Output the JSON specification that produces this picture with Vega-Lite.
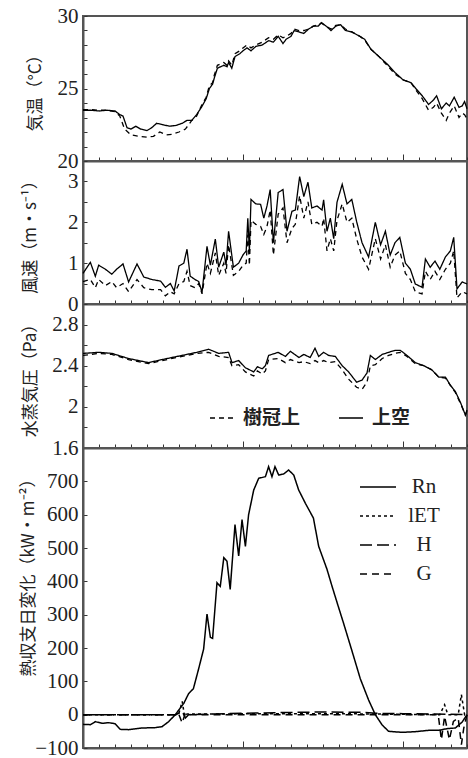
{
  "$schema": "https://vega.github.io/schema/vega-lite/v6.json",
  "padding": {"left": 17, "top": 4, "right": 0, "bottom": 0},
  "spacing": 0,
  "bounds": "flush",
  "config": {
    "view": {"stroke": "#555", "strokeWidth": 2},
    "axis": {"labelFont": "Liberation Serif", "labelFontSize": 21, "labelColor": "#222", "titleFont": "Noto Sans CJK JP", "titleFontSize": 17, "titleFontWeight": "normal", "titleColor": "#222", "domainColor": "#555", "domainWidth": 2, "tickColor": "#333", "tickWidth": 1, "grid": false, "labelOverlap": false, "labelFlush": false, "labelBound": false}
  },
  "resolve": {"scale": {"strokeDash": "independent"}, "legend": {"strokeDash": "independent"}},
  "datasets": {
    "temp": [
      {"t":0,"v":23.5,"s":"上空"},{"t":0.5,"v":23.5,"s":"上空"},{"t":1,"v":23.45,"s":"上空"},{"t":1.5,"v":23.5,"s":"上空"},{"t":2,"v":23.45,"s":"上空"},{"t":2.3,"v":23.2,"s":"上空"},{"t":2.5,"v":23.1,"s":"上空"},{"t":2.75,"v":22.3,"s":"上空"},{"t":3,"v":22.2,"s":"上空"},{"t":3.3,"v":22.4,"s":"上空"},{"t":3.6,"v":22.2,"s":"上空"},{"t":4,"v":22.1,"s":"上空"},{"t":4.3,"v":22.3,"s":"上空"},{"t":4.6,"v":22.6,"s":"上空"},{"t":5,"v":22.5,"s":"上空"},{"t":5.4,"v":22.4,"s":"上空"},{"t":5.8,"v":22.45,"s":"上空"},{"t":6.2,"v":22.6,"s":"上空"},{"t":6.5,"v":22.8,"s":"上空"},{"t":6.8,"v":22.8,"s":"上空"},{"t":7.1,"v":23.2,"s":"上空"},{"t":7.4,"v":23.7,"s":"上空"},{"t":7.7,"v":24.3,"s":"上空"},{"t":7.9,"v":25.0,"s":"上空"},{"t":8.1,"v":25.3,"s":"上空"},{"t":8.2,"v":25.7,"s":"上空"},{"t":8.4,"v":26.4,"s":"上空"},{"t":8.8,"v":26.6,"s":"上空"},{"t":9,"v":26.5,"s":"上空"},{"t":9.1,"v":26.8,"s":"上空"},{"t":9.3,"v":26.4,"s":"上空"},{"t":9.5,"v":27.2,"s":"上空"},{"t":9.8,"v":27.4,"s":"上空"},{"t":10,"v":27.6,"s":"上空"},{"t":10.25,"v":27.8,"s":"上空"},{"t":10.5,"v":27.6,"s":"上空"},{"t":10.8,"v":27.9,"s":"上空"},{"t":11.2,"v":28.0,"s":"上空"},{"t":11.6,"v":28.3,"s":"上空"},{"t":11.9,"v":28.2,"s":"上空"},{"t":12.2,"v":28.6,"s":"上空"},{"t":12.5,"v":28.1,"s":"上空"},{"t":12.7,"v":28.4,"s":"上空"},{"t":13,"v":28.6,"s":"上空"},{"t":13.2,"v":29.0,"s":"上空"},{"t":13.5,"v":28.9,"s":"上空"},{"t":13.8,"v":28.8,"s":"上空"},{"t":14.1,"v":29.1,"s":"上空"},{"t":14.4,"v":29.3,"s":"上空"},{"t":14.7,"v":29.3,"s":"上空"},{"t":14.9,"v":29.55,"s":"上空"},{"t":15.2,"v":29.3,"s":"上空"},{"t":15.5,"v":29.0,"s":"上空"},{"t":15.8,"v":29.3,"s":"上空"},{"t":16.1,"v":29.4,"s":"上空"},{"t":16.4,"v":29.0,"s":"上空"},{"t":16.8,"v":28.9,"s":"上空"},{"t":17.3,"v":28.6,"s":"上空"},{"t":17.6,"v":28.4,"s":"上空"},{"t":18,"v":27.7,"s":"上空"},{"t":18.5,"v":27.2,"s":"上空"},{"t":19,"v":26.7,"s":"上空"},{"t":19.5,"v":26.1,"s":"上空"},{"t":20,"v":25.6,"s":"上空"},{"t":20.5,"v":25.4,"s":"上空"},{"t":20.8,"v":25.0,"s":"上空"},{"t":21.2,"v":24.5,"s":"上空"},{"t":21.6,"v":23.9,"s":"上空"},{"t":21.9,"v":24.2,"s":"上空"},{"t":22.1,"v":24.5,"s":"上空"},{"t":22.4,"v":23.6,"s":"上空"},{"t":22.7,"v":24.0,"s":"上空"},{"t":22.9,"v":23.8,"s":"上空"},{"t":23.2,"v":24.4,"s":"上空"},{"t":23.5,"v":23.7,"s":"上空"},{"t":23.7,"v":23.8,"s":"上空"},{"t":23.85,"v":24.1,"s":"上空"},{"t":24,"v":23.6,"s":"上空"},
      {"t":0,"v":23.55,"s":"樹冠上"},{"t":0.5,"v":23.55,"s":"樹冠上"},{"t":1,"v":23.5,"s":"樹冠上"},{"t":1.5,"v":23.5,"s":"樹冠上"},{"t":2,"v":23.4,"s":"樹冠上"},{"t":2.3,"v":23.1,"s":"樹冠上"},{"t":2.6,"v":22.2,"s":"樹冠上"},{"t":3,"v":21.8,"s":"樹冠上"},{"t":3.5,"v":21.7,"s":"樹冠上"},{"t":4,"v":21.65,"s":"樹冠上"},{"t":4.4,"v":21.7,"s":"樹冠上"},{"t":4.8,"v":22.0,"s":"樹冠上"},{"t":5.2,"v":21.8,"s":"樹冠上"},{"t":5.6,"v":21.85,"s":"樹冠上"},{"t":6,"v":22.0,"s":"樹冠上"},{"t":6.4,"v":22.2,"s":"樹冠上"},{"t":6.8,"v":22.8,"s":"樹冠上"},{"t":7.1,"v":23.1,"s":"樹冠上"},{"t":7.4,"v":23.8,"s":"樹冠上"},{"t":7.7,"v":24.4,"s":"樹冠上"},{"t":7.9,"v":25.2,"s":"樹冠上"},{"t":8.1,"v":25.4,"s":"樹冠上"},{"t":8.2,"v":25.9,"s":"樹冠上"},{"t":8.4,"v":26.6,"s":"樹冠上"},{"t":8.8,"v":26.8,"s":"樹冠上"},{"t":9,"v":26.6,"s":"樹冠上"},{"t":9.1,"v":26.9,"s":"樹冠上"},{"t":9.3,"v":26.6,"s":"樹冠上"},{"t":9.5,"v":27.4,"s":"樹冠上"},{"t":9.8,"v":27.6,"s":"樹冠上"},{"t":10,"v":27.8,"s":"樹冠上"},{"t":10.25,"v":28.0,"s":"樹冠上"},{"t":10.5,"v":27.8,"s":"樹冠上"},{"t":10.8,"v":28.0,"s":"樹冠上"},{"t":11.2,"v":28.2,"s":"樹冠上"},{"t":11.6,"v":28.5,"s":"樹冠上"},{"t":11.9,"v":28.4,"s":"樹冠上"},{"t":12.2,"v":28.7,"s":"樹冠上"},{"t":12.5,"v":28.5,"s":"樹冠上"},{"t":12.7,"v":28.6,"s":"樹冠上"},{"t":13,"v":28.8,"s":"樹冠上"},{"t":13.2,"v":29.1,"s":"樹冠上"},{"t":13.5,"v":29.0,"s":"樹冠上"},{"t":13.8,"v":29.0,"s":"樹冠上"},{"t":14.1,"v":29.1,"s":"樹冠上"},{"t":14.4,"v":29.3,"s":"樹冠上"},{"t":14.7,"v":29.4,"s":"樹冠上"},{"t":14.9,"v":29.5,"s":"樹冠上"},{"t":15.2,"v":29.3,"s":"樹冠上"},{"t":15.5,"v":29.1,"s":"樹冠上"},{"t":15.8,"v":29.35,"s":"樹冠上"},{"t":16.1,"v":29.4,"s":"樹冠上"},{"t":16.4,"v":29.1,"s":"樹冠上"},{"t":16.8,"v":28.9,"s":"樹冠上"},{"t":17.3,"v":28.6,"s":"樹冠上"},{"t":17.6,"v":28.35,"s":"樹冠上"},{"t":18,"v":27.7,"s":"樹冠上"},{"t":18.5,"v":27.2,"s":"樹冠上"},{"t":19,"v":26.6,"s":"樹冠上"},{"t":19.5,"v":26.0,"s":"樹冠上"},{"t":20,"v":25.6,"s":"樹冠上"},{"t":20.5,"v":25.4,"s":"樹冠上"},{"t":20.8,"v":24.9,"s":"樹冠上"},{"t":21.2,"v":24.3,"s":"樹冠上"},{"t":21.6,"v":23.5,"s":"樹冠上"},{"t":21.9,"v":23.7,"s":"樹冠上"},{"t":22.1,"v":24.0,"s":"樹冠上"},{"t":22.4,"v":23.3,"s":"樹冠上"},{"t":22.7,"v":22.8,"s":"樹冠上"},{"t":22.9,"v":23.3,"s":"樹冠上"},{"t":23.2,"v":23.8,"s":"樹冠上"},{"t":23.5,"v":23.0,"s":"樹冠上"},{"t":23.7,"v":23.3,"s":"樹冠上"},{"t":23.85,"v":23.2,"s":"樹冠上"},{"t":24,"v":22.9,"s":"樹冠上"}
    ],
    "wind": [
      {"t":0,"v":0.75,"s":"上空"},{"t":0.46,"v":1.02,"s":"上空"},{"t":0.77,"v":0.68,"s":"上空"},{"t":0.98,"v":0.95,"s":"上空"},{"t":1.4,"v":0.85,"s":"上空"},{"t":1.8,"v":0.73,"s":"上空"},{"t":2.1,"v":0.85,"s":"上空"},{"t":2.5,"v":0.98,"s":"上空"},{"t":2.85,"v":0.54,"s":"上空"},{"t":3.375,"v":0.98,"s":"上空"},{"t":3.8,"v":0.66,"s":"上空"},{"t":4.3,"v":0.6,"s":"上空"},{"t":4.85,"v":0.56,"s":"上空"},{"t":5.15,"v":0.41,"s":"上空"},{"t":5.46,"v":0.5,"s":"上空"},{"t":5.7,"v":0.32,"s":"上空"},{"t":6,"v":0.93,"s":"上空"},{"t":6.3,"v":1.0,"s":"上空"},{"t":6.5,"v":1.34,"s":"上空"},{"t":6.7,"v":0.68,"s":"上空"},{"t":7,"v":0.6,"s":"上空"},{"t":7.23,"v":0.55,"s":"上空"},{"t":7.44,"v":0.29,"s":"上空"},{"t":7.75,"v":1.41,"s":"上空"},{"t":7.96,"v":0.95,"s":"上空"},{"t":8.27,"v":1.59,"s":"上空"},{"t":8.48,"v":0.9,"s":"上空"},{"t":8.8,"v":1.27,"s":"上空"},{"t":8.94,"v":0.95,"s":"上空"},{"t":9.1,"v":1.78,"s":"上空"},{"t":9.4,"v":0.9,"s":"上空"},{"t":9.73,"v":1.0,"s":"上空"},{"t":10,"v":1.2,"s":"上空"},{"t":10.2,"v":1.3,"s":"上空"},{"t":10.3,"v":2.1,"s":"上空"},{"t":10.4,"v":1.3,"s":"上空"},{"t":10.5,"v":2.56,"s":"上空"},{"t":10.8,"v":2.45,"s":"上空"},{"t":11.1,"v":2.44,"s":"上空"},{"t":11.3,"v":2.1,"s":"上空"},{"t":11.5,"v":2.4,"s":"上空"},{"t":11.7,"v":2.8,"s":"上空"},{"t":11.9,"v":1.5,"s":"上空"},{"t":12.2,"v":2.73,"s":"上空"},{"t":12.5,"v":2.8,"s":"上空"},{"t":12.75,"v":1.78,"s":"上空"},{"t":13.06,"v":2.27,"s":"上空"},{"t":13.27,"v":2.3,"s":"上空"},{"t":13.54,"v":3.12,"s":"上空"},{"t":13.8,"v":2.63,"s":"上空"},{"t":14.06,"v":2.98,"s":"上空"},{"t":14.3,"v":2.35,"s":"上空"},{"t":14.625,"v":2.4,"s":"上空"},{"t":14.94,"v":2.3,"s":"上空"},{"t":15.04,"v":2.55,"s":"上空"},{"t":15.25,"v":1.78,"s":"上空"},{"t":15.46,"v":2.1,"s":"上空"},{"t":15.67,"v":1.6,"s":"上空"},{"t":15.875,"v":2.49,"s":"上空"},{"t":16.2,"v":2.93,"s":"上空"},{"t":16.5,"v":2.45,"s":"上空"},{"t":16.8,"v":2.56,"s":"上空"},{"t":17.1,"v":2.02,"s":"上空"},{"t":17.44,"v":1.5,"s":"上空"},{"t":17.85,"v":1.15,"s":"上空"},{"t":18.27,"v":2.0,"s":"上空"},{"t":18.6,"v":1.45,"s":"上空"},{"t":18.9,"v":1.78,"s":"上空"},{"t":19.2,"v":1.2,"s":"上空"},{"t":19.5,"v":1.5,"s":"上空"},{"t":19.8,"v":1.63,"s":"上空"},{"t":20.15,"v":1.0,"s":"上空"},{"t":20.46,"v":0.85,"s":"上空"},{"t":20.77,"v":0.49,"s":"上空"},{"t":21.19,"v":0.41,"s":"上空"},{"t":21.4,"v":1.1,"s":"上空"},{"t":21.7,"v":0.9,"s":"上空"},{"t":22,"v":1.05,"s":"上空"},{"t":22.3,"v":0.85,"s":"上空"},{"t":22.65,"v":1.15,"s":"上空"},{"t":22.96,"v":1.3,"s":"上空"},{"t":23.17,"v":1.63,"s":"上空"},{"t":23.375,"v":0.37,"s":"上空"},{"t":23.7,"v":0.54,"s":"上空"},{"t":24,"v":0.49,"s":"上空"},
      {"t":0,"v":0.55,"s":"樹冠上"},{"t":0.46,"v":0.6,"s":"樹冠上"},{"t":0.77,"v":0.4,"s":"樹冠上"},{"t":0.98,"v":0.6,"s":"樹冠上"},{"t":1.4,"v":0.45,"s":"樹冠上"},{"t":1.8,"v":0.55,"s":"樹冠上"},{"t":2.1,"v":0.4,"s":"樹冠上"},{"t":2.5,"v":0.5,"s":"樹冠上"},{"t":2.85,"v":0.3,"s":"樹冠上"},{"t":3.375,"v":0.6,"s":"樹冠上"},{"t":3.8,"v":0.4,"s":"樹冠上"},{"t":4.3,"v":0.35,"s":"樹冠上"},{"t":4.85,"v":0.35,"s":"樹冠上"},{"t":5.15,"v":0.2,"s":"樹冠上"},{"t":5.46,"v":0.3,"s":"樹冠上"},{"t":5.7,"v":0.25,"s":"樹冠上"},{"t":6,"v":0.5,"s":"樹冠上"},{"t":6.3,"v":0.55,"s":"樹冠上"},{"t":6.5,"v":0.8,"s":"樹冠上"},{"t":6.7,"v":0.45,"s":"樹冠上"},{"t":7,"v":0.4,"s":"樹冠上"},{"t":7.23,"v":0.5,"s":"樹冠上"},{"t":7.44,"v":0.25,"s":"樹冠上"},{"t":7.75,"v":1.0,"s":"樹冠上"},{"t":7.96,"v":0.75,"s":"樹冠上"},{"t":8.27,"v":1.25,"s":"樹冠上"},{"t":8.48,"v":0.7,"s":"樹冠上"},{"t":8.8,"v":1.0,"s":"樹冠上"},{"t":8.94,"v":0.75,"s":"樹冠上"},{"t":9.1,"v":1.45,"s":"樹冠上"},{"t":9.4,"v":0.7,"s":"樹冠上"},{"t":9.73,"v":0.8,"s":"樹冠上"},{"t":10,"v":0.95,"s":"樹冠上"},{"t":10.2,"v":1.0,"s":"樹冠上"},{"t":10.3,"v":1.7,"s":"樹冠上"},{"t":10.4,"v":0.95,"s":"樹冠上"},{"t":10.5,"v":2.05,"s":"樹冠上"},{"t":10.8,"v":1.95,"s":"樹冠上"},{"t":11.1,"v":1.9,"s":"樹冠上"},{"t":11.3,"v":1.7,"s":"樹冠上"},{"t":11.5,"v":1.9,"s":"樹冠上"},{"t":11.7,"v":2.3,"s":"樹冠上"},{"t":11.9,"v":1.2,"s":"樹冠上"},{"t":12.2,"v":2.2,"s":"樹冠上"},{"t":12.5,"v":2.35,"s":"樹冠上"},{"t":12.75,"v":1.5,"s":"樹冠上"},{"t":13.06,"v":1.85,"s":"樹冠上"},{"t":13.27,"v":1.95,"s":"樹冠上"},{"t":13.54,"v":2.65,"s":"樹冠上"},{"t":13.8,"v":2.1,"s":"樹冠上"},{"t":14.06,"v":2.5,"s":"樹冠上"},{"t":14.3,"v":1.95,"s":"樹冠上"},{"t":14.625,"v":2.0,"s":"樹冠上"},{"t":14.94,"v":1.9,"s":"樹冠上"},{"t":15.04,"v":2.1,"s":"樹冠上"},{"t":15.25,"v":1.3,"s":"樹冠上"},{"t":15.46,"v":1.6,"s":"樹冠上"},{"t":15.67,"v":1.3,"s":"樹冠上"},{"t":15.875,"v":2.05,"s":"樹冠上"},{"t":16.2,"v":2.45,"s":"樹冠上"},{"t":16.5,"v":2.0,"s":"樹冠上"},{"t":16.8,"v":2.1,"s":"樹冠上"},{"t":17.1,"v":1.6,"s":"樹冠上"},{"t":17.44,"v":1.15,"s":"樹冠上"},{"t":17.85,"v":0.85,"s":"樹冠上"},{"t":18.27,"v":1.6,"s":"樹冠上"},{"t":18.6,"v":1.1,"s":"樹冠上"},{"t":18.9,"v":1.45,"s":"樹冠上"},{"t":19.2,"v":0.9,"s":"樹冠上"},{"t":19.5,"v":1.2,"s":"樹冠上"},{"t":19.8,"v":1.3,"s":"樹冠上"},{"t":20.15,"v":0.75,"s":"樹冠上"},{"t":20.46,"v":0.6,"s":"樹冠上"},{"t":20.77,"v":0.3,"s":"樹冠上"},{"t":21.19,"v":0.25,"s":"樹冠上"},{"t":21.4,"v":0.8,"s":"樹冠上"},{"t":21.7,"v":0.6,"s":"樹冠上"},{"t":22,"v":0.8,"s":"樹冠上"},{"t":22.3,"v":0.6,"s":"樹冠上"},{"t":22.65,"v":0.85,"s":"樹冠上"},{"t":22.96,"v":1.0,"s":"樹冠上"},{"t":23.17,"v":1.3,"s":"樹冠上"},{"t":23.375,"v":0.15,"s":"樹冠上"},{"t":23.7,"v":0.3,"s":"樹冠上"},{"t":24,"v":0.25,"s":"樹冠上"}
    ],
    "vap": [
      {"t":0,"v":2.52,"s":"上空"},{"t":0.98,"v":2.53,"s":"上空"},{"t":1.8,"v":2.52,"s":"上空"},{"t":2.85,"v":2.47,"s":"上空"},{"t":4.1,"v":2.43,"s":"上空"},{"t":4.94,"v":2.46,"s":"上空"},{"t":6.19,"v":2.5,"s":"上空"},{"t":7.1,"v":2.53,"s":"上空"},{"t":7.85,"v":2.56,"s":"上空"},{"t":8.48,"v":2.52,"s":"上空"},{"t":9.1,"v":2.53,"s":"上空"},{"t":9.31,"v":2.43,"s":"上空"},{"t":9.73,"v":2.45,"s":"上空"},{"t":10.15,"v":2.38,"s":"上空"},{"t":10.67,"v":2.34,"s":"上空"},{"t":10.9,"v":2.39,"s":"上空"},{"t":11.2,"v":2.37,"s":"上空"},{"t":11.4,"v":2.4,"s":"上空"},{"t":11.6,"v":2.5,"s":"上空"},{"t":12.2,"v":2.53,"s":"上空"},{"t":12.65,"v":2.49,"s":"上空"},{"t":12.96,"v":2.54,"s":"上空"},{"t":13.5,"v":2.48,"s":"上空"},{"t":13.8,"v":2.51,"s":"上空"},{"t":14.2,"v":2.48,"s":"上空"},{"t":14.5,"v":2.57,"s":"上空"},{"t":14.73,"v":2.49,"s":"上空"},{"t":15.04,"v":2.53,"s":"上空"},{"t":15.35,"v":2.5,"s":"上空"},{"t":15.77,"v":2.49,"s":"上空"},{"t":16.2,"v":2.4,"s":"上空"},{"t":16.6,"v":2.34,"s":"上空"},{"t":17.1,"v":2.24,"s":"上空"},{"t":17.44,"v":2.26,"s":"上空"},{"t":17.75,"v":2.33,"s":"上空"},{"t":17.96,"v":2.5,"s":"上空"},{"t":18.27,"v":2.46,"s":"上空"},{"t":18.7,"v":2.51,"s":"上空"},{"t":19.1,"v":2.53,"s":"上空"},{"t":19.5,"v":2.55,"s":"上空"},{"t":19.83,"v":2.55,"s":"上空"},{"t":20.25,"v":2.5,"s":"上空"},{"t":20.77,"v":2.43,"s":"上空"},{"t":21.3,"v":2.4,"s":"上空"},{"t":21.8,"v":2.36,"s":"上空"},{"t":22.23,"v":2.29,"s":"上空"},{"t":22.65,"v":2.29,"s":"上空"},{"t":22.96,"v":2.21,"s":"上空"},{"t":23.27,"v":2.15,"s":"上空"},{"t":23.6,"v":2.04,"s":"上空"},{"t":23.9,"v":1.92,"s":"上空"},{"t":24,"v":1.97,"s":"上空"},
      {"t":0,"v":2.5,"s":"樹冠上"},{"t":0.98,"v":2.52,"s":"樹冠上"},{"t":1.8,"v":2.51,"s":"樹冠上"},{"t":2.85,"v":2.46,"s":"樹冠上"},{"t":4.1,"v":2.42,"s":"樹冠上"},{"t":4.94,"v":2.45,"s":"樹冠上"},{"t":6.19,"v":2.49,"s":"樹冠上"},{"t":7.1,"v":2.52,"s":"樹冠上"},{"t":7.85,"v":2.53,"s":"樹冠上"},{"t":8.48,"v":2.49,"s":"樹冠上"},{"t":9.1,"v":2.48,"s":"樹冠上"},{"t":9.31,"v":2.4,"s":"樹冠上"},{"t":9.73,"v":2.41,"s":"樹冠上"},{"t":10.15,"v":2.34,"s":"樹冠上"},{"t":10.67,"v":2.3,"s":"樹冠上"},{"t":10.9,"v":2.35,"s":"樹冠上"},{"t":11.2,"v":2.32,"s":"樹冠上"},{"t":11.4,"v":2.35,"s":"樹冠上"},{"t":11.6,"v":2.46,"s":"樹冠上"},{"t":12.2,"v":2.47,"s":"樹冠上"},{"t":12.65,"v":2.43,"s":"樹冠上"},{"t":12.96,"v":2.46,"s":"樹冠上"},{"t":13.5,"v":2.43,"s":"樹冠上"},{"t":13.8,"v":2.44,"s":"樹冠上"},{"t":14.2,"v":2.42,"s":"樹冠上"},{"t":14.5,"v":2.45,"s":"樹冠上"},{"t":14.73,"v":2.43,"s":"樹冠上"},{"t":15.04,"v":2.45,"s":"樹冠上"},{"t":15.35,"v":2.43,"s":"樹冠上"},{"t":15.77,"v":2.44,"s":"樹冠上"},{"t":16.2,"v":2.36,"s":"樹冠上"},{"t":16.6,"v":2.27,"s":"樹冠上"},{"t":17.1,"v":2.19,"s":"樹冠上"},{"t":17.44,"v":2.17,"s":"樹冠上"},{"t":17.75,"v":2.24,"s":"樹冠上"},{"t":17.96,"v":2.4,"s":"樹冠上"},{"t":18.27,"v":2.41,"s":"樹冠上"},{"t":18.7,"v":2.47,"s":"樹冠上"},{"t":19.1,"v":2.5,"s":"樹冠上"},{"t":19.5,"v":2.52,"s":"樹冠上"},{"t":19.83,"v":2.53,"s":"樹冠上"},{"t":20.25,"v":2.49,"s":"樹冠上"},{"t":20.77,"v":2.42,"s":"樹冠上"},{"t":21.3,"v":2.4,"s":"樹冠上"},{"t":21.8,"v":2.36,"s":"樹冠上"},{"t":22.23,"v":2.29,"s":"樹冠上"},{"t":22.65,"v":2.28,"s":"樹冠上"},{"t":22.96,"v":2.21,"s":"樹冠上"},{"t":23.27,"v":2.14,"s":"樹冠上"},{"t":23.6,"v":2.03,"s":"樹冠上"},{"t":23.9,"v":1.92,"s":"樹冠上"},{"t":24,"v":1.96,"s":"樹冠上"}
    ],
    "heat": [
      {"t":0,"v":-29,"s":"Rn"},{"t":0.46,"v":-30,"s":"Rn"},{"t":0.77,"v":-21,"s":"Rn"},{"t":1.19,"v":-26,"s":"Rn"},{"t":1.6,"v":-24,"s":"Rn"},{"t":2,"v":-27,"s":"Rn"},{"t":2.33,"v":-44,"s":"Rn"},{"t":2.85,"v":-45,"s":"Rn"},{"t":3.7,"v":-40,"s":"Rn"},{"t":4.5,"v":-39,"s":"Rn"},{"t":4.94,"v":-36,"s":"Rn"},{"t":5.35,"v":-21,"s":"Rn"},{"t":5.77,"v":0,"s":"Rn"},{"t":6.08,"v":20,"s":"Rn"},{"t":6.3,"v":34,"s":"Rn"},{"t":6.6,"v":63,"s":"Rn"},{"t":6.9,"v":78,"s":"Rn"},{"t":7.23,"v":138,"s":"Rn"},{"t":7.54,"v":197,"s":"Rn"},{"t":7.75,"v":302,"s":"Rn"},{"t":7.96,"v":232,"s":"Rn"},{"t":8.1,"v":229,"s":"Rn"},{"t":8.375,"v":396,"s":"Rn"},{"t":8.58,"v":385,"s":"Rn"},{"t":8.8,"v":471,"s":"Rn"},{"t":9,"v":460,"s":"Rn"},{"t":9.2,"v":376,"s":"Rn"},{"t":9.5,"v":570,"s":"Rn"},{"t":9.73,"v":476,"s":"Rn"},{"t":9.94,"v":585,"s":"Rn"},{"t":10.15,"v":505,"s":"Rn"},{"t":10.35,"v":600,"s":"Rn"},{"t":10.67,"v":674,"s":"Rn"},{"t":10.98,"v":709,"s":"Rn"},{"t":11.4,"v":714,"s":"Rn"},{"t":11.6,"v":744,"s":"Rn"},{"t":11.81,"v":714,"s":"Rn"},{"t":12,"v":744,"s":"Rn"},{"t":12.23,"v":719,"s":"Rn"},{"t":12.54,"v":722,"s":"Rn"},{"t":12.85,"v":734,"s":"Rn"},{"t":13.17,"v":719,"s":"Rn"},{"t":13.48,"v":674,"s":"Rn"},{"t":13.9,"v":634,"s":"Rn"},{"t":14.4,"v":590,"s":"Rn"},{"t":14.73,"v":505,"s":"Rn"},{"t":15.25,"v":436,"s":"Rn"},{"t":15.56,"v":386,"s":"Rn"},{"t":15.875,"v":337,"s":"Rn"},{"t":16.3,"v":272,"s":"Rn"},{"t":16.8,"v":193,"s":"Rn"},{"t":17.33,"v":108,"s":"Rn"},{"t":17.85,"v":44,"s":"Rn"},{"t":18.27,"v":0,"s":"Rn"},{"t":18.7,"v":-31,"s":"Rn"},{"t":19.1,"v":-50,"s":"Rn"},{"t":19.94,"v":-53,"s":"Rn"},{"t":20.77,"v":-51,"s":"Rn"},{"t":21.6,"v":-47,"s":"Rn"},{"t":22.23,"v":-47,"s":"Rn"},{"t":22.75,"v":-42,"s":"Rn"},{"t":23.27,"v":-40,"s":"Rn"},{"t":23.7,"v":-22,"s":"Rn"},{"t":24,"v":0,"s":"Rn"},
      {"t":0,"v":0,"s":"lET"},{"t":5.8,"v":0,"s":"lET"},{"t":6.0,"v":5,"s":"lET"},{"t":6.2,"v":40,"s":"lET"},{"t":6.35,"v":-5,"s":"lET"},{"t":6.5,"v":2,"s":"lET"},{"t":8,"v":2,"s":"lET"},{"t":12,"v":3,"s":"lET"},{"t":16,"v":3,"s":"lET"},{"t":18,"v":2,"s":"lET"},{"t":22.3,"v":0,"s":"lET"},{"t":22.6,"v":30,"s":"lET"},{"t":22.8,"v":0,"s":"lET"},{"t":23.45,"v":0,"s":"lET"},{"t":23.65,"v":60,"s":"lET"},{"t":23.85,"v":0,"s":"lET"},{"t":24,"v":5,"s":"lET"},
      {"t":0,"v":0,"s":"H"},{"t":5.8,"v":0,"s":"H"},{"t":6.2,"v":10,"s":"H"},{"t":6.4,"v":-10,"s":"H"},{"t":6.6,"v":0,"s":"H"},{"t":9,"v":3,"s":"H"},{"t":12,"v":6,"s":"H"},{"t":15,"v":8,"s":"H"},{"t":17.5,"v":7,"s":"H"},{"t":18.3,"v":4,"s":"H"},{"t":20,"v":3,"s":"H"},{"t":22,"v":2,"s":"H"},{"t":24,"v":0,"s":"H"},
      {"t":0,"v":0,"s":"G"},{"t":6.0,"v":0,"s":"G"},{"t":6.2,"v":-25,"s":"G"},{"t":6.4,"v":5,"s":"G"},{"t":6.6,"v":0,"s":"G"},{"t":12,"v":0,"s":"G"},{"t":22.2,"v":0,"s":"G"},{"t":22.4,"v":-75,"s":"G"},{"t":22.6,"v":-5,"s":"G"},{"t":22.9,"v":-75,"s":"G"},{"t":23.15,"v":-20,"s":"G"},{"t":23.45,"v":-10,"s":"G"},{"t":23.65,"v":-90,"s":"G"},{"t":23.8,"v":-40,"s":"G"},{"t":24,"v":0,"s":"G"}
    ]
  },
  "vconcat": [
    {
      "width": 384, "height": 145,
      "data": {"name": "temp"},
      "mark": {"type": "line", "color": "black", "strokeWidth": 1.3},
      "encoding": {
        "x": {"field": "t", "type": "quantitative", "scale": {"domain": [0, 24], "nice": false}, "axis": {"values": [0,1,2,3,4,5,6,7,8,9,10,11,12,13,14,15,16,17,18,19,20,21,22,23,24], "labels": false, "title": null, "tickSize": {"condition": {"test": "datum.value % 10 === 0", "value": -7}, "value": -4}}},
        "y": {"field": "v", "type": "quantitative", "scale": {"domain": [20, 30], "nice": false, "zero": false}, "axis": {"values": [20,21,22,23,24,25,26,27,28,29,30], "format": "~g", "labelExpr": "datum.value % 5 === 0 ? datum.label : ''", "tickSize": -4, "labelPadding": 9, "title": "気温（°C）", "titleX": -48, "titleBaseline": "middle", "encode": {"labels": {"update": {"font": {"value": "Liberation Serif"}}}}}},
        "strokeDash": {"field": "s", "type": "nominal", "scale": {"domain": ["樹冠上", "上空"], "range": [[5, 4], [1, 0]]}, "legend": null}
      }
    },
    {
      "width": 384, "height": 143,
      "data": {"name": "wind"},
      "mark": {"type": "line", "color": "black", "strokeWidth": 1.3},
      "encoding": {
        "x": {"field": "t", "type": "quantitative", "scale": {"domain": [0, 24], "nice": false}, "axis": {"values": [0,1,2,3,4,5,6,7,8,9,10,11,12,13,14,15,16,17,18,19,20,21,22,23,24], "labels": false, "title": null, "tickSize": {"condition": {"test": "datum.value % 10 === 0", "value": -7}, "value": -4}}},
        "y": {"field": "v", "type": "quantitative", "scale": {"domain": [0, 3.5], "nice": false}, "axis": {"values": [0,0.5,1,1.5,2,2.5,3,3.5], "format": "~g", "labelExpr": "datum.value % 1 === 0 ? datum.label : ''", "tickSize": -4, "labelPadding": 9, "title": "風速（m・s⁻¹）", "titleX": -53, "titleBaseline": "middle", "encode": {"labels": {"update": {"font": {"value": "Liberation Serif"}}}}}},
        "strokeDash": {"field": "s", "type": "nominal", "scale": {"domain": ["樹冠上", "上空"], "range": [[5, 4], [1, 0]]}, "legend": null}
      }
    },
    {
      "width": 384, "height": 144,
      "data": {"name": "vap"},
      "mark": {"type": "line", "color": "black", "strokeWidth": 1.3},
      "encoding": {
        "x": {"field": "t", "type": "quantitative", "scale": {"domain": [0, 24], "nice": false}, "axis": {"values": [0,1,2,3,4,5,6,7,8,9,10,11,12,13,14,15,16,17,18,19,20,21,22,23,24], "labels": false, "title": null, "tickSize": {"condition": {"test": "datum.value % 10 === 0", "value": -7}, "value": -4}}},
        "y": {"field": "v", "type": "quantitative", "scale": {"domain": [1.6, 3.0], "nice": false, "zero": false}, "axis": {"values": [1.6,1.8,2,2.2,2.4,2.6,2.8,3.0], "format": "~g", "labelExpr": "indexof([1.6, 2, 2.4, 2.8], datum.value) >= 0 ? datum.label : ''", "tickSize": -4, "labelPadding": 9, "title": "水蒸気圧（Pa）", "titleX": -53, "titleBaseline": "middle", "encode": {"labels": {"update": {"font": {"value": "Liberation Serif"}}}}}},
        "strokeDash": {"field": "s", "type": "nominal", "scale": {"domain": ["樹冠上", "上空"], "range": [[5, 4], [1, 0]]},
          "legend": {"orient": "none", "legendX": 126, "legendY": 101, "direction": "horizontal", "title": null, "symbolType": "stroke", "symbolSize": 576, "symbolStrokeWidth": 1.3, "symbolStrokeColor": "black", "labelFont": "Noto Sans CJK JP", "labelFontSize": 19, "labelFontWeight": "bold", "labelColor": "#222", "labelOffset": 8, "columnPadding": 35}}
      }
    },
    {
      "width": 384, "height": 300,
      "data": {"name": "heat"},
      "mark": {"type": "line", "color": "black", "strokeWidth": 1.5},
      "encoding": {
        "x": {"field": "t", "type": "quantitative", "scale": {"domain": [0, 24], "nice": false}, "axis": {"values": [0,1,2,3,4,5,6,7,8,9,10,11,12,13,14,15,16,17,18,19,20,21,22,23,24], "labels": false, "title": null, "tickSize": {"condition": {"test": "datum.value % 10 === 0", "value": -7}, "value": -4}}},
        "y": {"field": "v", "type": "quantitative", "scale": {"domain": [-100, 800], "nice": false, "zero": false}, "axis": {"values": [-100,0,100,200,300,400,500,600,700], "labelFont": "Liberation Serif", "tickSize": -4, "labelPadding": 9, "title": "熱収支日変化（kW・m⁻²）", "titleX": -55, "titleY": 125, "titleBaseline": "middle"}},
        "strokeDash": {"field": "s", "type": "nominal", "scale": {"domain": ["Rn", "lET", "H", "G"], "range": [[1, 0], [3, 3], [12, 5], [7, 5]]},
          "legend": {"orient": "none", "legendX": 276, "legendY": 20, "direction": "vertical", "title": null, "symbolType": "stroke", "symbolSize": 1296, "symbolStrokeWidth": 1.5, "symbolStrokeColor": "black", "labelFont": "Liberation Serif", "labelFontSize": 21, "labelColor": "#222", "labelAlign": "center", "labelOffset": 27, "rowPadding": -3}}
      }
    }
  ]
}
